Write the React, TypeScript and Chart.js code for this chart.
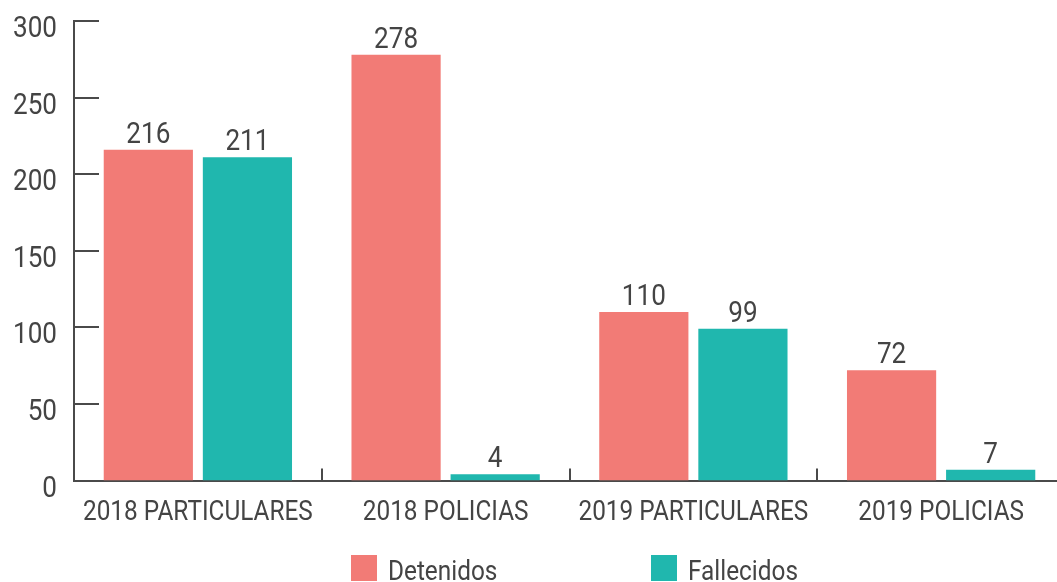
import { useEffect, useRef } from "react";
import { Chart, registerables } from "chart.js";

Chart.register(...registerables);

const categories = ["2018 PARTICULARES", "2018 POLICIAS", "2019 PARTICULARES", "2019 POLICIAS"];
const seriesNames = ["Detenidos", "Fallecidos"];
const detenidos = [216, 278, 110, 72];
const fallecidos = [211, 4, 99, 7];
const yTicks = [0, 50, 100, 150, 200, 250, 300];

const FONT = "Roboto, 'Liberation Sans', sans-serif";
const SQUEEZE = 0.87; // condensed look
const TEXT = "#444444";
const AXIS = "#4a4a4a";
const COLORS = ["#F27B76", "#20B7AE"];

const CANVAS_W = 1065;
const CANVAS_H = 582;

function drawText(
  ctx: CanvasRenderingContext2D,
  text: string,
  x: number,
  y: number,
  align: CanvasTextAlign,
  size: number
) {
  ctx.save();
  ctx.translate(x, y);
  ctx.scale(SQUEEZE, 1);
  ctx.font = `${size}px ${FONT}`;
  ctx.textAlign = align;
  ctx.textBaseline = "alphabetic";
  ctx.fillStyle = TEXT;
  ctx.fillText(text, 0, 0);
  ctx.restore();
}

const decorPlugin = {
  id: "decor",
  afterDatasetsDraw(chart: any) {
    const ctx = chart.ctx as CanvasRenderingContext2D;
    const { left, right, bottom } = chart.chartArea;
    const x = chart.scales.x;
    const y = chart.scales.y;
    ctx.save();
    ctx.strokeStyle = AXIS;
    ctx.lineWidth = 2;
    // inward y ticks + y labels
    yTicks.forEach((v) => {
      const py = y.getPixelForValue(v);
      if (v !== 0) {
        ctx.beginPath();
        ctx.moveTo(left, Math.round(py));
        ctx.lineTo(left + 25, Math.round(py));
        ctx.stroke();
      }
      drawText(ctx, String(v), left - 17, py + 16, "right", 30);
    });
    // x category separators (upward) + x labels
    const n = categories.length;
    const w = (right - left) / n;
    for (let i = 1; i <= n; i++) {
      const px = Math.round(left + i * w);
      ctx.beginPath();
      ctx.moveTo(px, bottom);
      ctx.lineTo(px, bottom - 12);
      ctx.stroke();
    }
    categories.forEach((c, i) => {
      drawText(ctx, c, x.getPixelForValue(i), bottom + 39, "center", 28);
    });
    // value labels
    chart.data.datasets.forEach((ds: any, di: number) => {
      const meta = chart.getDatasetMeta(di);
      meta.data.forEach((el: any, i: number) => {
        drawText(ctx, String(ds.data[i]), el.x, el.y - 7, "center", 30);
      });
    });
    // legend
    const legendX = [351, 651];
    seriesNames.forEach((name, i) => {
      ctx.fillStyle = COLORS[i];
      ctx.fillRect(legendX[i], 555, 26, 26);
      drawText(ctx, name, legendX[i] + 37, 580, "left", 28);
    });
    ctx.restore();
  },
};

export default function App() {
  const ref = useRef<HTMLCanvasElement | null>(null);
  useEffect(() => {
    if (!ref.current) return;
    const chart = new Chart(ref.current, {
      type: "bar",
      data: {
        labels: categories,
        datasets: [
          { label: seriesNames[0], data: detenidos, backgroundColor: COLORS[0], borderWidth: 0 },
          { label: seriesNames[1], data: fallecidos, backgroundColor: COLORS[1], borderWidth: 0 },
        ],
      },
      options: {
        responsive: false,
        maintainAspectRatio: false,
        animation: false,
        layout: { padding: { top: 21, left: 0, right: 0, bottom: 0 } },
        plugins: { legend: { display: false }, tooltip: { enabled: false } },
        scales: {
          x: {
            grid: { display: false, drawTicks: false },
            border: { display: true, color: AXIS, width: 2 },
            ticks: { display: false },
            afterFit: (s: any) => {
              s.height = 101.5;
              s.paddingLeft = 0;
              s.paddingRight = 0;
            },
          },
          y: {
            min: 0,
            max: 300,
            grid: { display: false, drawTicks: false },
            border: { display: true, color: AXIS, width: 2 },
            ticks: { display: false, stepSize: 50 },
            afterBuildTicks: (s: any) => {
              s.ticks = yTicks.map((v) => ({ value: v }));
            },
            afterFit: (s: any) => {
              s.width = 74;
              s.paddingTop = 0;
              s.paddingBottom = 0;
            },
          },
        },
      },
      plugins: [decorPlugin],
    });
    return () => chart.destroy();
  }, []);
  return (
    <div
      style={{
        position: "fixed",
        left: 0,
        top: 0,
        width: 1057,
        height: CANVAS_H,
        overflow: "hidden",
        background: "#fff",
      }}
    >
      <canvas
        ref={ref}
        width={CANVAS_W}
        height={CANVAS_H}
        style={{ display: "block", width: CANVAS_W, height: CANVAS_H }}
      />
    </div>
  );
}
